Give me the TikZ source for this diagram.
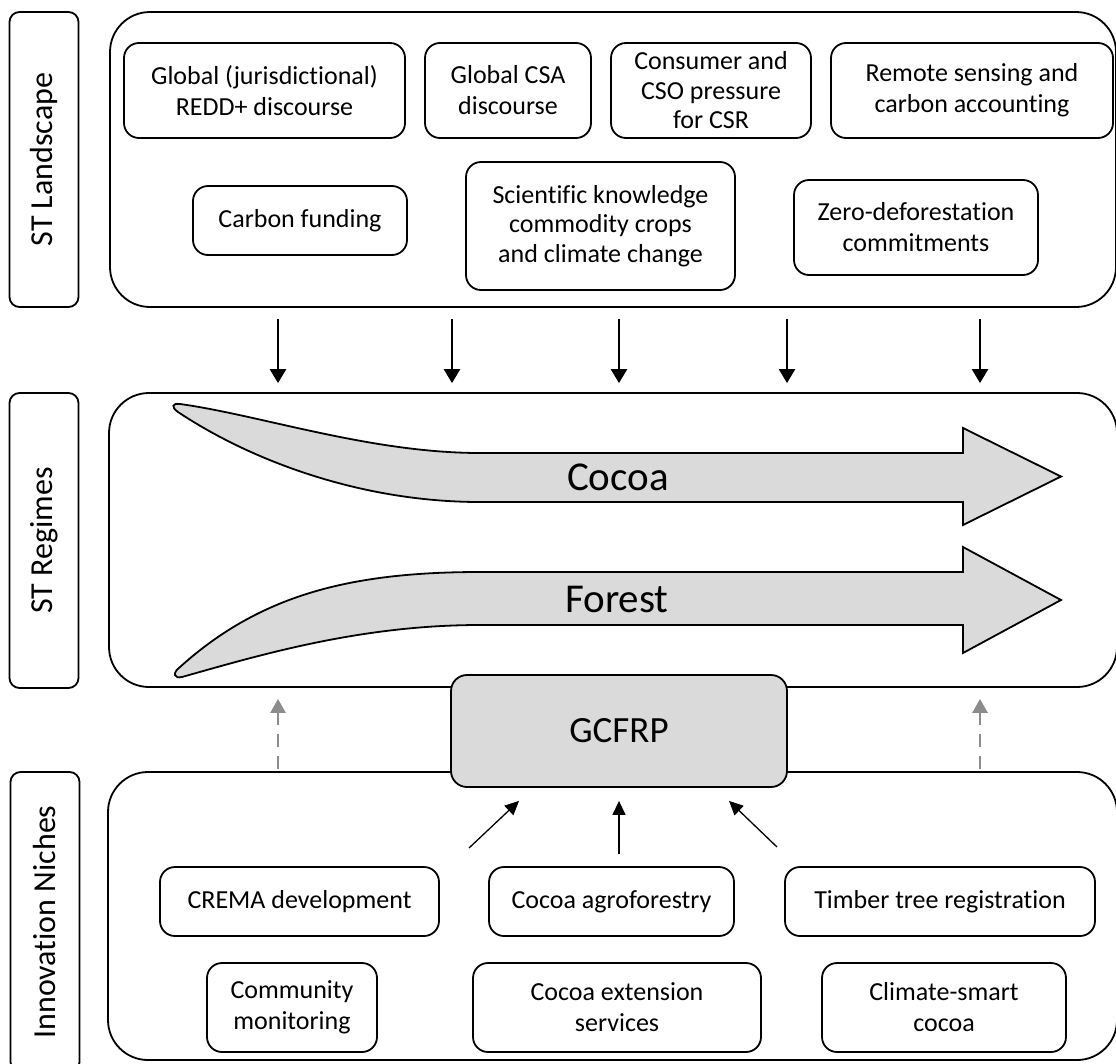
\documentclass[tikz,border=0pt]{standalone}
\usepackage{fontspec}
\setmainfont[Ligatures=NoCommon]{Carlito}
\usetikzlibrary{arrows.meta,calc}
\definecolor{shade}{HTML}{DADADA}
\definecolor{dgray}{HTML}{8C8C8C}
\tikzset{
  txt/.style={font=\fontsize{26}{31}\selectfont, align=center},
  inbox/.style={txt, draw, line width=1.8pt, rounded corners=15pt, inner sep=0pt},
  bigbox/.style={draw, line width=1.8pt, rounded corners=40pt, inner sep=0pt},
  lblbox/.style={draw, line width=1.8pt, rounded corners=10pt, inner sep=0pt, rotate=90,
                 font=\fontsize{32}{38}\selectfont},
  downarr/.style={line width=2.5pt, -{Triangle[width=16pt,length=14pt]}},
  dasharr/.style={line width=2.6pt, dgray, dash pattern=on 13pt off 9pt, -{Triangle[width=15pt,length=14pt]}},
  thinarr/.style={line width=1.3pt, -{Triangle[width=13pt,length=14pt]}},
  bigarrow/.style={line width=1.8pt, fill=shade, line join=miter}
}
\begin{document}
\begin{tikzpicture}[x=1pt,y=-1pt]
\useasboundingbox (0,0) rectangle (1116,1063);
\fill[white] (0,0) rectangle (1116,1063);

% side labels
\node[lblbox, minimum width=295pt, minimum height=69pt] (labL) at (44,159.5) {ST Landscape};
\node[lblbox, minimum width=295pt, minimum height=69pt] (labR) at (44,540.5) {ST Regimes};
\node[lblbox, minimum width=300pt, minimum height=69pt] (labN) at (45,922) {Innovation Niches};

% big boxes
\node[bigbox, minimum width=1006pt, minimum height=295pt] (land) at (613,159.5) {};
\node[bigbox, minimum width=1008pt, minimum height=294pt] (reg) at (613,540) {};
\node[bigbox, minimum width=1009pt, minimum height=288pt] (nich) at (612.5,916) {};

% landscape items
\node[inbox, minimum width=281pt, minimum height=95pt] (l1) at (264.5,90.5) {Global (jurisdictional)\\REDD+ discourse};
\node[inbox, minimum width=166pt, minimum height=95pt] (l2) at (508,90.5) {Global CSA\\discourse};
\node[inbox, minimum width=200pt, minimum height=95pt, font=\fontsize{26}{29.5}\selectfont] (l3) at (711,90.5) {Consumer and\\CSO pressure\\for CSR};
\node[inbox, minimum width=282pt, minimum height=95pt] (l4) at (972,90.5) {Remote sensing and\\carbon accounting};
\node[inbox, minimum width=214pt, minimum height=69pt] (l5) at (300,220.5) {Carbon funding};
\node[inbox, minimum width=269pt, minimum height=128pt, font=\fontsize{26}{29.5}\selectfont] (l6) at (600.5,226) {Scientific knowledge\\commodity crops\\and climate change};
\node[inbox, minimum width=244pt, minimum height=95pt] (l7) at (916,227.5) {Zero-deforestation\\commitments};

% landscape -> regimes arrows
\foreach \xx in {278,452,619,787,980}{
  \draw[downarr, shorten <=11pt, shorten >=9pt] (land.south -| \xx,0) -- (reg.north -| \xx,0);
}

% regime arrows
\draw[bigarrow] (180,404) .. controls (260,415) and (370,453) .. (480,453)
  -- (963,453) -- (963,428) -- (1061,476.5) -- (963,525) -- (963,502) -- (480,502)
  .. controls (360,502) and (250,460) .. (178,412)
  .. controls (171,407) and (172,403) .. (180,404) -- cycle;
\node[font=\fontsize{41}{48}\selectfont] (cocoa) at (618,477) {Cocoa};

\draw[bigarrow] (480,572) -- (963,572) -- (963,547) -- (1061,600) -- (963,653) -- (963,625) -- (480,625)
  .. controls (360,625) and (260,655) .. (182,677)
  .. controls (174,679) and (172,673) .. (180,667)
  .. controls (260,595) and (350,572) .. (480,572) -- cycle;
\node[font=\fontsize{41}{48}\selectfont] (forest) at (617,599) {Forest};

% GCFRP
\node[draw, line width=1.8pt, rounded corners=16pt, fill=shade, minimum width=336pt, minimum height=112pt,
      font=\fontsize{37}{44}\selectfont] (gc) at (619,731) {GCFRP};

% dashed niche -> regime arrows
\foreach \xx in {278,980}{
  \draw[dasharr, shorten <=2pt, shorten >=11pt] (nich.north -| \xx,0) -- (reg.south -| \xx,0);
}

% niche items
\node[inbox, minimum width=279pt, minimum height=69pt] (n1) at (299.5,901.5) {CREMA development};
\node[inbox, minimum width=245pt, minimum height=69pt] (n2) at (611.5,901.5) {Cocoa agroforestry};
\node[inbox, minimum width=310pt, minimum height=69pt] (n3) at (940,901.5) {Timber tree registration};
\node[inbox, minimum width=170pt, minimum height=89pt] (n4) at (292,1007.5) {Community\\monitoring};
\node[inbox, minimum width=288pt, minimum height=89pt] (n5) at (617,1007.5) {Cocoa extension\\services};
\node[inbox, minimum width=244pt, minimum height=89pt] (n6) at (944,1007.5) {Climate-smart\\cocoa};

% arrows into GCFRP
\coordinate (s1) at (469,848);
\coordinate (s2) at (619,854);
\coordinate (s3) at (777,847);
\draw[thinarr] (s1) -- ($(gc.south)+(-100,13)$);
\draw[thinarr] (s2) -- ($(gc.south)+(0,13)$);
\draw[thinarr] (s3) -- ($(gc.south)+(110,13)$);
\end{tikzpicture}
\end{document}
